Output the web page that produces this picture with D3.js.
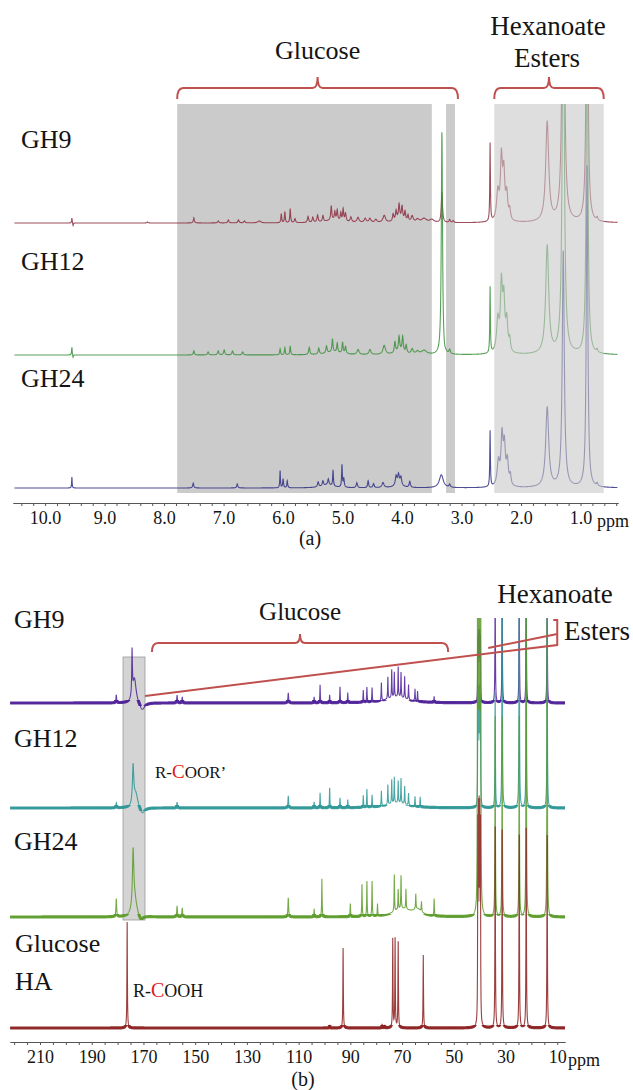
<!DOCTYPE html>
<html>
<head>
<meta charset="utf-8">
<script src="https://cdn.jsdelivr.net/npm/d3@7"></script>
<style>
  body { margin: 0; background: #fff; }
  svg text { font-family: "Liberation Serif", "Times New Roman", Tinos, "DejaVu Serif", serif !important; fill: #141414; }
</style>
</head>
<body>
<div id="chart"></div>
<script>
// ---------- data: (a) 1H NMR, peaks as [ppm, intensity, half width] ----------
var hTickLabels = [10, 9, 8, 7, 6, 5, 4, 3, 2, 1];
var hNames = ["GH9", "GH12", "GH24"];
var hGlucoseBoxes = [[7.78, 3.50], [3.26, 3.11]];
var hEsterBox = [2.45, 0.61];
var hGlucoseBrace = [7.78, 3.06];

var gh9H = [
  [9.55, 5, 0.006], [9.53, -3, 0.006], [8.28, 1, 0.01], [7.50, 5, 0.01],
  [7.09, 2, 0.012], [6.92, 3, 0.012], [6.75, 3, 0.012], [6.65, 2, 0.012], [6.40, 2, 0.03],
  [6.03, 9, 0.008], [5.97, 11, 0.008], [5.88, 14, 0.008], [5.80, 4, 0.012],
  [5.58, 6, 0.012], [5.50, 5, 0.012], [5.42, 7, 0.012], [5.33, 6, 0.012],
  [5.19, 14, 0.01], [5.13, 8, 0.01], [5.09, 10, 0.01], [5.03, 8, 0.01], [4.99, 12, 0.01], [4.95, 8, 0.012],
  [5.15, 3, 0.15], [4.86, 5, 0.015], [4.74, 5, 0.02], [4.62, 4, 0.02], [4.54, 4, 0.02], [4.44, 3, 0.02], [4.30, 7, 0.025],
  [4.15, 7, 0.012], [4.10, 9, 0.012], [4.05, 14, 0.012], [4.00, 13, 0.012], [3.95, 9, 0.012], [3.90, 6, 0.012],
  [4.04, 4, 0.08], [3.83, 6, 0.02], [3.74, 3, 0.03], [3.63, 4, 0.05], [3.50, 3, 0.04],
  [3.33, 30, 0.012], [3.20, 3, 0.012], [3.14, 2, 0.012],
  [2.52, 78, 0.006], [2.39, 28, 0.025], [2.33, 60, 0.02], [2.29, 45, 0.02], [2.24, 25, 0.02], [2.19, 10, 0.015],
  [1.56, 100, 0.03], [1.29, 400, 0.02], [0.89, 400, 0.015], [0.72, 3, 0.012]
];
var gh12H = [
  [9.55, 8, 0.006], [9.53, -3, 0.006], [7.50, 4, 0.01],
  [7.26, 3, 0.012], [7.09, 4, 0.012], [6.99, 5, 0.012], [6.85, 4, 0.012], [6.68, 3, 0.012],
  [6.05, 6, 0.008], [5.97, 7, 0.008], [5.88, 9, 0.008],
  [5.56, 7, 0.012], [5.40, 6, 0.012], [5.27, 7, 0.012], [5.17, 13, 0.01], [5.09, 9, 0.01], [5.00, 11, 0.01], [4.95, 7, 0.012],
  [5.15, 3, 0.15], [4.74, 5, 0.02], [4.54, 5, 0.02], [4.30, 9, 0.025],
  [4.12, 11, 0.012], [4.05, 14, 0.012], [3.99, 15, 0.012], [3.93, 8, 0.012], [4.04, 4, 0.08],
  [3.83, 5, 0.02], [3.74, 3, 0.03], [3.63, 4, 0.05],
  [3.33, 223, 0.012], [3.29, -4, 0.02], [3.20, 4, 0.012],
  [2.52, 66, 0.006], [2.39, 32, 0.025], [2.33, 65, 0.02], [2.29, 50, 0.02], [2.24, 30, 0.02], [2.19, 12, 0.015],
  [1.56, 108, 0.03], [1.29, 400, 0.02], [0.89, 400, 0.015], [0.72, 3, 0.012]
];
var gh24H = [
  [9.55, 11, 0.005], [7.51, 5, 0.01], [6.77, 4, 0.01],
  [6.05, 17, 0.006], [6.00, 9, 0.008], [5.93, 7, 0.008],
  [5.41, 5, 0.012], [5.33, 5, 0.012], [5.24, 6, 0.012], [5.16, 16, 0.007], [5.01, 22, 0.007], [4.98, 9, 0.01],
  [5.25, 3, 0.12], [4.76, 5, 0.012], [4.57, 7, 0.01], [4.48, 4, 0.012], [4.32, 5, 0.02],
  [4.10, 9, 0.015], [4.06, 10, 0.015], [4.02, 8, 0.015], [4.06, 3, 0.08], [3.87, 6, 0.012],
  [3.34, 13, 0.04], [3.20, 3, 0.012],
  [2.52, 56, 0.006], [2.38, 24, 0.025], [2.32, 48, 0.02], [2.28, 38, 0.02], [2.23, 24, 0.02], [2.18, 10, 0.015],
  [1.56, 80, 0.03], [1.29, 236, 0.02], [0.89, 322, 0.015], [0.72, 3, 0.012]
];

// ---------- data: (b) 13C NMR ----------
var cTickLabels = [210, 190, 170, 150, 130, 110, 90, 70, 50, 30, 10];
var cNames = ["GH9", "GH12", "GH24"];
var cCarbonylBox = [177.9, 169.4];
var cGlucoseBrace = [166.7, 52.2];

var gh9C = [
  [180.5, 8, 0.15], [174.4, 45, 0.15], [173.5, 25, 0.8], [170.5, -8, 1.2],
  [157, 8, 0.15], [155, 6, 0.15], [114, 10, 0.15],
  [104, 6, 0.1], [101.7, 18, 0.1], [98, 8, 0.1], [94, 16, 0.1], [91, 10, 0.1],
  [85, 12, 0.1], [83.6, 15, 0.1], [81.6, 14, 0.1], [78, 18, 0.1], [75.5, 22, 0.1], [74, 28, 0.1],
  [73, 25, 0.1], [71.5, 30, 0.1], [70.4, 25, 0.1], [69, 22, 0.1], [67.5, 15, 0.1], [65, 12, 0.1], [64, 10, 0.1],
  [72, 6, 5], [57.6, 6, 0.1],
  [40.7, 60, 0.08], [40.45, 60, 0.08], [40.2, 60, 0.08], [39.95, 60, 0.08], [39.7, 60, 0.08],
  [34.0, 120, 0.1], [31.3, 120, 0.1], [24.7, 120, 0.1], [22.0, 120, 0.1], [13.9, 120, 0.1]
];
var gh12C = [
  [180.5, 5, 0.15], [174.0, 38, 0.3], [173, 15, 1], [170.5, -7, 1.2],
  [157, 6, 0.15], [114, 12, 0.15],
  [104, 6, 0.1], [101.7, 15, 0.1], [98, 20, 0.1], [94, 10, 0.1], [91, 8, 0.1],
  [85, 12, 0.1], [83.6, 18, 0.1], [81.6, 12, 0.1], [78, 15, 0.1], [75.5, 20, 0.1], [74, 24, 0.1],
  [73, 26, 0.1], [71.5, 22, 0.1], [70.4, 25, 0.1], [69, 18, 0.1], [67.5, 12, 0.1], [65, 10, 0.1], [63, 10, 0.1],
  [72, 5, 5],
  [40.7, 100, 0.08], [40.45, 100, 0.08], [40.2, 100, 0.08], [39.95, 100, 0.08], [39.7, 100, 0.08],
  [34.0, 115, 0.1], [31.3, 260, 0.1], [24.7, 260, 0.1], [22.0, 200, 0.1], [13.9, 200, 0.1]
];
var gh24C = [
  [180.5, 18, 0.15], [174.0, 54, 0.3], [173.5, 20, 1], [171, -5, 1],
  [157, 11, 0.15], [155, 9, 0.15], [114, 19, 0.15],
  [104, 8, 0.1], [101, 38, 0.1], [90, 13, 0.1], [85.5, 32, 0.1], [83.6, 35, 0.1], [81.6, 35, 0.1],
  [79.5, 12, 0.1], [73, 37, 0.1], [71.5, 20, 0.1], [70.4, 33, 0.1], [68.5, 20, 0.1],
  [64.7, 15, 0.1], [62.5, 10, 0.1], [57.6, 17, 0.1], [70, 8, 4], [64, 6, 2],
  [40.8, 400, 0.08], [40.5, 400, 0.08], [40.2, 400, 0.08], [39.9, 400, 0.08], [39.6, 400, 0.08],
  [34.0, 200, 0.1], [31.3, 200, 0.1], [24.7, 200, 0.1], [22.0, 330, 0.1], [13.9, 330, 0.1]
];
var haC = [
  [176.3, 106, 0.1], [98, 3, 0.1], [92.8, 80, 0.1], [77.7, 4, 0.1], [76.8, 3, 0.1],
  [73.6, 89, 0.1], [72.7, 89, 0.1], [71.5, 86, 0.1], [61.8, 73, 0.1],
  [40.7, 188, 0.08], [40.45, 188, 0.08], [40.2, 188, 0.08], [39.95, 188, 0.08], [39.7, 188, 0.08],
  [34.0, 201, 0.1], [31.3, 198, 0.1], [24.7, 193, 0.1], [22.0, 200, 0.1], [13.9, 193, 0.1]
];

// ---------- setup ----------
var svgWidth = 633;
var svgHeight = 1090;
var serif = "'Liberation Serif', 'Times New Roman', Tinos, 'DejaVu Serif', serif";

var svg = d3.select("#chart").append("svg")
  .attr("width", svgWidth)
  .attr("height", svgHeight)
  .attr("font-family", serif)
  .style("display", "block");

svg.append("rect").attr("width", svgWidth).attr("height", svgHeight).attr("fill", "#fff");

var braceColor = "#c0504d";
var defs = svg.append("defs");

// sum of lorentzian lines, sampled on a grid plus every line centre
function spectrum(peaks, lo, hi, step) {
  var xs = d3.range(lo, hi, step).concat(peaks.map(function (p) { return p[0]; }));
  xs.sort(d3.ascending);
  return xs.map(function (x) {
    var y = d3.sum(peaks, function (p) {
      var u = (x - p[0]) / p[2];
      return p[1] / (1 + u * u);
    });
    return [x, y];
  });
}

// curly brace opening downward, tip up
function brace(g, x1, x2, y, depth) {
  var mid = (x1 + x2) / 2;
  var p = d3.path();
  p.moveTo(x1, y + depth);
  p.quadraticCurveTo(x1, y, x1 + 6, y);
  p.lineTo(mid - 5, y);
  p.quadraticCurveTo(mid, y, mid, y - depth);
  p.quadraticCurveTo(mid, y, mid + 5, y);
  p.lineTo(x2 - 6, y);
  p.quadraticCurveTo(x2, y, x2, y + depth);
  g.append("path").attr("d", p.toString())
    .attr("fill", "none").attr("stroke", braceColor).attr("stroke-width", 2);
}

function label(g, x, y, size, txt, anchor) {
  return g.append("text").attr("x", x).attr("y", y)
    .attr("text-anchor", anchor || "start")
    .attr("font-family", serif)
    .style("font-size", size + "px").text(txt);
}

// ================= (a) =================
var xA = d3.scaleLinear().domain([10.54, 0.37]).range([13, 618]);
var yA = d3.scaleLinear().domain([0, 100]).range([0, -100]);
var baseA = [223, 355, 488];
var colorsA = ["#8c2d3f", "#3a8f3a", "#2f2f85"];
var seriesA = [gh9H, gh12H, gh24H];

var gA = svg.append("g");

defs.append("clipPath").attr("id", "clipA")
  .append("rect").attr("x", 0).attr("y", 104).attr("width", svgWidth).attr("height", 400);

gA.selectAll(".gbox").data(hGlucoseBoxes).enter().append("rect")
  .attr("x", function (d) { return xA(d[0]); })
  .attr("width", function (d) { return xA(d[1]) - xA(d[0]); })
  .attr("y", 104).attr("height", 389)
  .attr("fill", "#cbcbcb");

var tracesA = gA.append("g").attr("clip-path", "url(#clipA)");
seriesA.forEach(function (peaks, i) {
  var line = d3.line()
    .x(function (d) { return xA(d[0]); })
    .y(function (d) { return baseA[i] + yA(d[1]); });
  tracesA.append("path")
    .datum(spectrum(peaks, 0.38, 10.52, 0.004))
    .attr("d", line)
    .attr("fill", "none")
    .attr("stroke", colorsA[i])
    .attr("stroke-width", 1.1)
    .attr("stroke-opacity", 0.85);
});

// translucent ester box over the traces
gA.append("rect")
  .attr("x", xA(hEsterBox[0]))
  .attr("width", xA(hEsterBox[1]) - xA(hEsterBox[0]))
  .attr("y", 104).attr("height", 389)
  .attr("fill", "#c8c8c8").attr("fill-opacity", 0.6);

brace(gA, xA(hGlucoseBrace[0]), xA(hGlucoseBrace[1]), 88, 11);
brace(gA, xA(hEsterBox[0]), xA(hEsterBox[1]), 88, 11);

label(gA, (xA(hGlucoseBrace[0]) + xA(hGlucoseBrace[1])) / 2, 59, 26, "Glucose", "middle");
label(gA, 548, 35, 27, "Hexanoate", "middle");
label(gA, 547, 67, 27, "Esters", "middle");

var labelYA = [148, 270, 387];
hNames.forEach(function (d, i) { label(gA, 21, labelYA[i], 26, d); });

// axis (a)
var axisA = gA.append("g").attr("transform", "translate(0,503)");
axisA.call(d3.axisBottom(xA).tickValues(d3.range(2, 53).map(function (i) { return i / 5; }))
  .tickSize(3).tickSizeOuter(0).tickFormat(""));
axisA.append("g").call(d3.axisBottom(xA).tickValues(hTickLabels).tickSize(0).tickPadding(8)
  .tickFormat(d3.format(".1f")));
axisA.selectAll("path, line").attr("stroke", "#555");
axisA.selectAll("g").attr("font-family", serif);
axisA.selectAll("text").style("font-size", "18px").attr("fill", "#141414");
axisA.select("g").select(".domain").remove();
label(gA, 597, 527, 18, "ppm");
label(gA, 310, 545, 20, "(a)", "middle");

// ================= (b) =================
var xB = d3.scaleLinear().domain([221.6, 7]).range([10, 565]);
var yB = d3.scaleLinear().domain([0, 100]).range([0, -100]);
var baseB = [703, 808, 917, 1028];
var colorsB = ["#4b1d96", "#2b9595", "#5a9a28", "#8b1c1c"];
var seriesB = [gh9C, gh12C, gh24C, haC];

var gB = svg.append("g");

defs.append("clipPath").attr("id", "clipB")
  .append("rect").attr("x", 0).attr("y", 618).attr("width", svgWidth).attr("height", 420);

gB.append("rect")
  .attr("x", xB(cCarbonylBox[0]))
  .attr("width", xB(cCarbonylBox[1]) - xB(cCarbonylBox[0]))
  .attr("y", 657).attr("height", 263)
  .attr("fill", "#d4d4d4").attr("stroke", "#9a9a9a").attr("stroke-width", 0.8);

var tracesB = gB.append("g").attr("clip-path", "url(#clipB)");
seriesB.forEach(function (peaks, i) {
  var data = spectrum(peaks, 7, 221.6, 0.08);
  var line = d3.line()
    .x(function (d) { return xB(d[0]); })
    .y(function (d) { return baseB[i] + yB(d[1]); });
  // fuzzy baseline band
  defs.append("clipPath").attr("id", "band" + i)
    .append("rect").attr("x", 0).attr("y", baseB[i] - 3).attr("width", svgWidth).attr("height", 6);
  tracesB.append("path").datum(data).attr("d", line)
    .attr("fill", "none").attr("stroke", colorsB[i]).attr("stroke-width", 3.2)
    .attr("stroke-opacity", 0.9).attr("clip-path", "url(#band" + i + ")");
  tracesB.append("path").datum(data).attr("d", line)
    .attr("fill", "none").attr("stroke", colorsB[i]).attr("stroke-width", 1.1)
    .attr("stroke-opacity", 0.85);
});

brace(gB, xB(cGlucoseBrace[0]), xB(cGlucoseBrace[1]), 643, 9);

// ester bracket drawn from the carbonyl box
var xBoxR = xB(cCarbonylBox[1]);
var xEnd = xB(10);
gB.append("path")
  .attr("d", "M" + xBoxR + ",696L" + xEnd + ",645L" + xEnd + ",620L" + (xEnd - 4) + ",620")
  .attr("fill", "none").attr("stroke", braceColor).attr("stroke-width", 2);
gB.append("path")
  .attr("d", "M" + xB(36.7) + ",648L" + xEnd + ",634")
  .attr("fill", "none").attr("stroke", braceColor).attr("stroke-width", 2);

label(gB, (xB(cGlucoseBrace[0]) + xB(cGlucoseBrace[1])) / 2, 620, 25, "Glucose", "middle");
label(gB, 555, 603, 27, "Hexanoate", "middle");
label(gB, 564, 640, 27, "Esters");

var labelYB = [628, 747, 850];
cNames.forEach(function (d, i) { label(gB, 14, labelYB[i], 26, d); });
label(gB, 15, 952, 26, "Glucose");
label(gB, 15, 990, 26, "HA");

var t1 = label(gB, 155, 778, 17, "");
t1.append("tspan").text("R-");
t1.append("tspan").style("fill", "#e02020").style("font-size", "19px").text("C");
t1.append("tspan").text("OOR\u2019");

var t2 = label(gB, 133, 997, 18, "");
t2.append("tspan").text("R-");
t2.append("tspan").style("fill", "#e02020").style("font-size", "20px").text("C");
t2.append("tspan").text("OOH");

// axis (b)
var axisB = gB.append("g").attr("transform", "translate(0,1042)");
axisB.call(d3.axisBottom(xB).tickValues(d3.range(10, 221, 5)).tickSize(3).tickSizeOuter(0).tickFormat(""));
axisB.append("g").call(d3.axisBottom(xB).tickValues(cTickLabels).tickSize(0).tickPadding(8));
axisB.selectAll("path, line").attr("stroke", "#555");
axisB.selectAll("g").attr("font-family", serif);
axisB.selectAll("text").style("font-size", "18px").attr("fill", "#141414");
axisB.select("g").select(".domain").remove();
label(gB, 568, 1066, 18, "ppm");
label(gB, 303, 1086, 20, "(b)", "middle");
</script>
</body>
</html>
